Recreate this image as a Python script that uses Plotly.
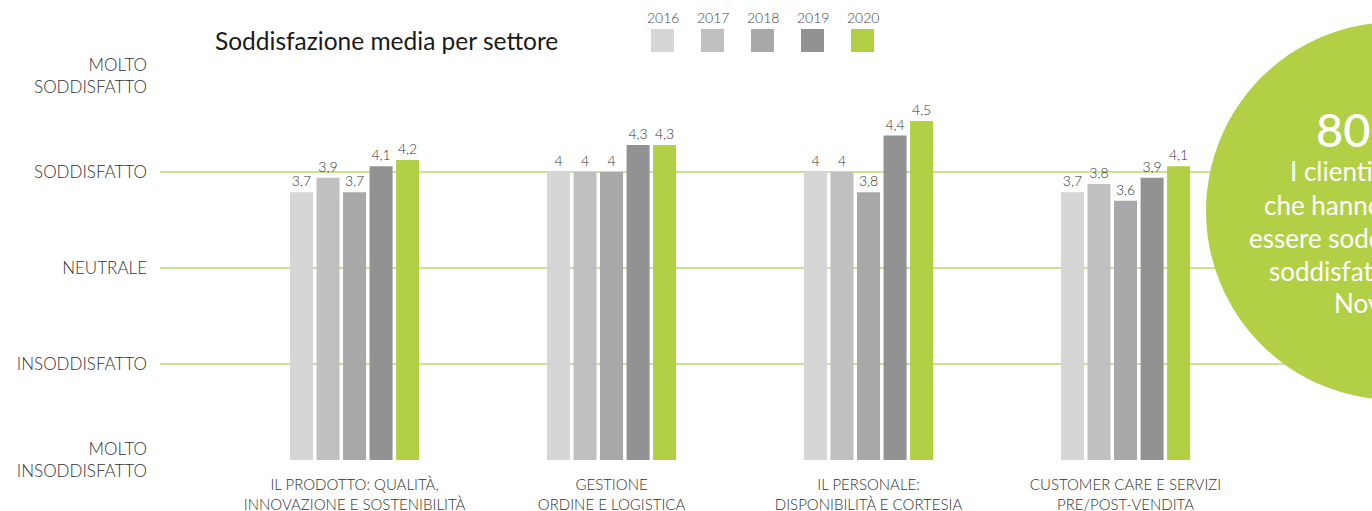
import plotly.graph_objects as go

# ---------------- data ----------------
categories = [
    "IL PRODOTTO: QUALITÀ,<br>INNOVAZIONE E SOSTENIBILITÀ",
    "GESTIONE<br>ORDINE E LOGISTICA",
    "IL PERSONALE:<br>DISPONIBILITÀ E CORTESIA",
    "CUSTOMER CARE E SERVIZI<br>PRE/POST-VENDITA",
]
years = ["2016", "2017", "2018", "2019", "2020"]
# bar heights (1 = molto insoddisfatto ... 5 = molto soddisfatto)
v2016 = [3.79, 4.00, 4.00, 3.79]
v2017 = [3.94, 4.00, 4.00, 3.875]
v2018 = [3.79, 4.00, 3.79, 3.70]
v2019 = [4.06, 4.28, 4.38, 3.94]
v2020 = [4.125, 4.28, 4.53, 4.06]
# printed labels
l2016 = ["3,7", "4", "4", "3,7"]
l2017 = ["3,9", "4", "4", "3,8"]
l2018 = ["3,7", "4", "3,8", "3,6"]
l2019 = ["4,1", "4,3", "4,4", "3,9"]
l2020 = ["4,2", "4,3", "4,5", "4,1"]
y_ticks = [1, 2, 3, 4, 5]
y_ticktext = ["MOLTO<br>INSODDISFATTO", "INSODDISFATTO", "NEUTRALE",
              "SODDISFATTO", "MOLTO<br>SODDISFATTO"]
title_text = "Soddisfazione media per settore"
circle_big = "80%"
circle_lines = ["I clienti soddisfatti", "che hanno dichiarato di",
                "essere soddisfatti o molto", "soddisfatti a", "Novembre 2020"]

# ---------------- style ----------------
colors = ["#d6d6d6", "#c0c0c0", "#a8a8a8", "#929292", "#b2d045"]
GREEN = "#b2d045"
GRID = "#cde193"
TXT = "#333333"
FONT = "Lato"

W, H = 1372, 511
L, R, T, B = 160, 0, 76, 51
PW, PH = W - L - R, H - T - B


def px(x):
    return (x - L) / PW


def py(y):
    return (H - B - y) / PH


values = [v2016, v2017, v2018, v2019, v2020]
labels = [l2016, l2017, l2018, l2019, l2020]

fig = go.Figure()
for yr, vals, labs, c in zip(years, values, labels, colors):
    fig.add_trace(go.Bar(
        name=yr, x=categories, y=vals, base=0,
        marker=dict(color=c, line=dict(width=0)),
        text=labs, textposition="outside", cliponaxis=False,
        textfont=dict(family=FONT, size=14, color=TXT, weight=300),
        showlegend=False, hoverinfo="skip",
    ))

fig.update_layout(
    width=W, height=H,
    margin=dict(l=L, r=R, t=T, b=B, pad=0, autoexpand=False),
    paper_bgcolor="white", plot_bgcolor="white",
    barmode="group", bargap=0.484, bargroupgap=0.132,
    font=dict(family=FONT, color=TXT),
    showlegend=False,
)
fig.update_xaxes(
    type="category", range=[-0.757, 3.959], automargin=False,
    showgrid=False, zeroline=False, showline=False, ticks="",
    ticklabelstandoff=14,
    tickfont=dict(family=FONT, size=15, color=TXT, weight=300),
)
fig.update_yaxes(
    range=[1, 5], tickvals=y_ticks, ticktext=y_ticktext, automargin=False,
    showgrid=True, gridcolor=GRID, gridwidth=1.5,
    zeroline=False, showline=False, ticks="",
    ticklabelstandoff=12,
    tickfont=dict(family=FONT, size=17, color=TXT, weight=300),
)

# title
fig.add_annotation(xref="paper", yref="paper", x=px(213), y=py(40),
                   xanchor="left", yanchor="middle", showarrow=False,
                   text=title_text,
                   font=dict(family=FONT, size=24.5, color="#1a1a1a"))

# legend (squares with year labels above)
for i, (yr, c) in enumerate(zip(years, colors)):
    x0 = 651 + 50 * i
    fig.add_shape(type="rect", xref="paper", yref="paper",
                  x0=px(x0), x1=px(x0 + 23), y0=py(52), y1=py(29),
                  fillcolor=c, line=dict(width=0), layer="above")
    fig.add_annotation(xref="paper", yref="paper", x=px(x0 + 11.5), y=py(18),
                       xanchor="center", yanchor="middle", showarrow=False,
                       text=yr, font=dict(family=FONT, size=14, color="#444444", weight=300))

# green circle
cx, cy, r = 1395, 211, 189
fig.add_shape(type="circle", xref="paper", yref="paper",
              x0=px(cx - r), x1=px(cx + r), y0=py(cy + r), y1=py(cy - r),
              fillcolor=GREEN, line=dict(width=0), layer="above")
fig.add_annotation(xref="paper", yref="paper", x=px(1314), y=py(129),
                   xanchor="left", yanchor="middle", showarrow=False,
                   text=circle_big,
                   font=dict(family=FONT, size=47, color="white", weight=500))
starts = [1288, 1262, 1247, 1267, 1332]
ys = [171, 205, 238, 271, 303]
for t, sx, sy in zip(circle_lines, starts, ys):
    fig.add_annotation(xref="paper", yref="paper", x=px(sx), y=py(sy),
                       xanchor="left", yanchor="middle", showarrow=False,
                       text=t, font=dict(family=FONT, size=26, color="white", weight=400))

fig.write_html(
    "out.html",
    config={"displayModeBar": False},
    post_script="document.body.style.margin='0';document.body.style.overflow='hidden';",
)
